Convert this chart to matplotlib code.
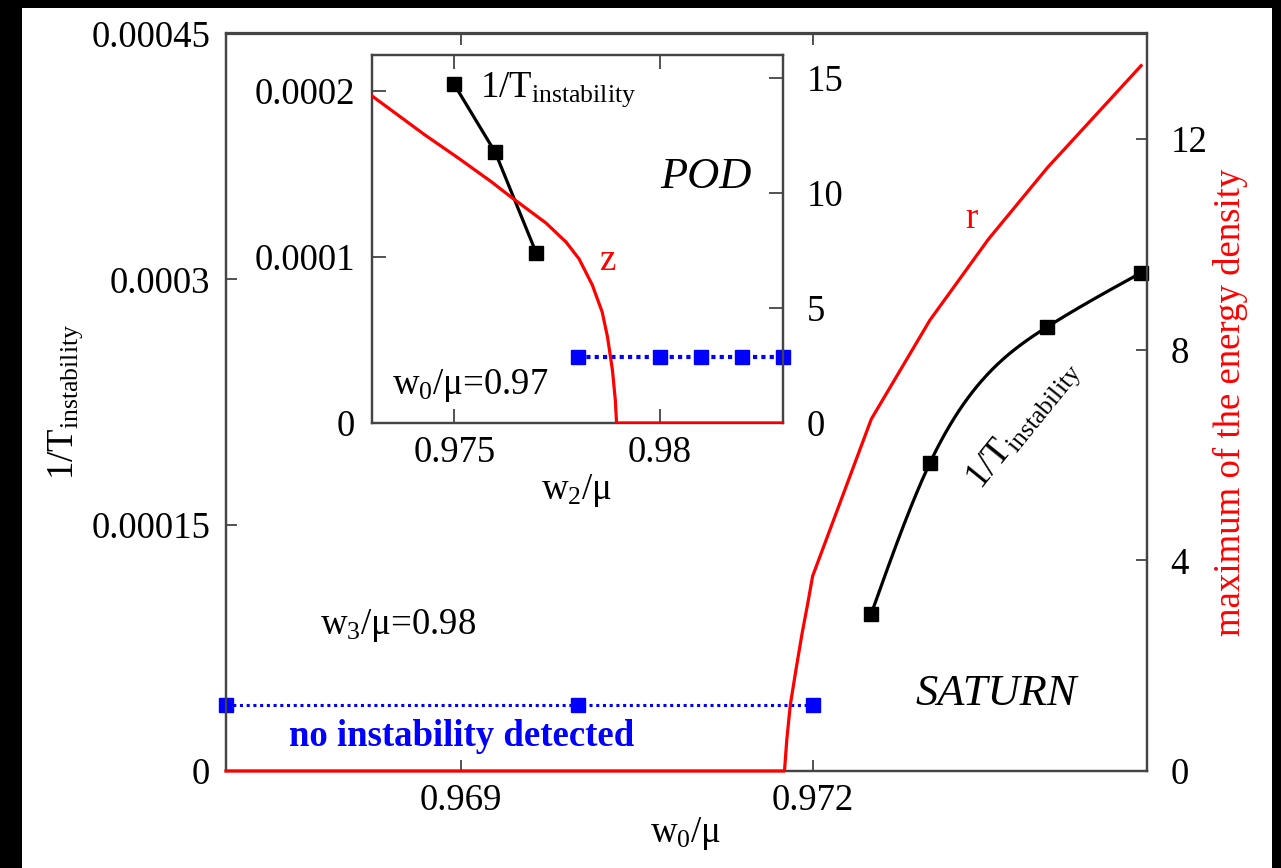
import numpy as np
import matplotlib
matplotlib.use("Agg")
import matplotlib.pyplot as plt
from matplotlib.patches import Rectangle

plt.rcParams["font.family"] = ["Liberation Serif", "DejaVu Serif"]
plt.rcParams["mathtext.fontset"] = "custom"
plt.rcParams["mathtext.rm"] = "Liberation Serif"
plt.rcParams["mathtext.it"] = "Liberation Serif:italic"
plt.rcParams["mathtext.bf"] = "Liberation Serif:bold"

# ---------------- data: main panel (SATURN, w3/mu = 0.98) ----------------
w0_inst = [0.9725, 0.973, 0.974, 0.9748]
inv_T_main = [9.6e-5, 1.88e-4, 2.71e-4, 3.04e-4]

w0_none = [0.967, 0.970, 0.972]
none_main = [4e-5, 4e-5, 4e-5]

w0_r = [0.967, 0.97176, 0.97178, 0.97181, 0.97186, 0.97191, 0.97196, 0.972,
        0.9725, 0.973, 0.9735, 0.974, 0.9748]
r_max = [0.0, 0.0, 0.6, 1.26, 1.95, 2.61, 3.2, 3.70,
         6.68, 8.56, 10.1, 11.45, 13.39]

main_xticks = [0.969, 0.972]
main_xlabels = ["0.969", "0.972"]
main_lticks = [0.0, 0.00015, 0.0003, 0.00045]
main_llabels = ["0", "0.00015", "0.0003", "0.00045"]
main_rticks = [0, 4, 8, 12]
main_rlabels = ["0", "4", "8", "12"]

# ---------------- data: inset (POD, w0/mu = 0.97) ----------------
w2_inst = [0.975, 0.976, 0.977]
inv_T_inset = [2.04e-4, 1.63e-4, 1.022e-4]

w2_none = [0.978, 0.980, 0.981, 0.982, 0.983]
none_inset = [4e-5, 4e-5, 4e-5, 4e-5, 4e-5]

w2_z = [0.973, 0.97429, 0.97510, 0.97591, 0.97632, 0.97674, 0.97723,
        0.97772, 0.97804, 0.97836, 0.97860, 0.97873, 0.97885, 0.97892,
        0.97895, 0.983]
z_max = [14.22, 12.52, 11.52, 10.48, 9.91, 9.35, 8.70,
         7.87, 7.13, 6.0, 4.83, 3.74, 2.30, 1.0,
         0.0, 0.0]

inset_xticks = [0.975, 0.98]
inset_xlabels = ["0.975", "0.98"]
inset_lticks = [0.0, 0.0001, 0.0002]
inset_llabels = ["0", "0.0001", "0.0002"]
inset_rticks = [0, 5, 10, 15]
inset_rlabels = ["0", "5", "10", "15"]


def natural_spline(x, y, n=300):
    """Smooth curve through the given points (natural cubic spline)."""
    x = np.asarray(x, float)
    y = np.asarray(y, float)
    k = len(x)
    h = np.diff(x)
    A = np.zeros((k, k))
    b = np.zeros(k)
    A[0, 0] = A[-1, -1] = 1.0
    for i in range(1, k - 1):
        A[i, i - 1] = h[i - 1]
        A[i, i] = 2 * (h[i - 1] + h[i])
        A[i, i + 1] = h[i]
        b[i] = 3 * ((y[i + 1] - y[i]) / h[i] - (y[i] - y[i - 1]) / h[i - 1])
    c = np.linalg.solve(A, b)
    xs = np.linspace(x[0], x[-1], n)
    idx = np.clip(np.searchsorted(x, xs) - 1, 0, k - 2)
    t = xs - x[idx]
    bb = (y[idx + 1] - y[idx]) / h[idx] - h[idx] * (2 * c[idx] + c[idx + 1]) / 3
    dd = (c[idx + 1] - c[idx]) / (3 * h[idx])
    ys = y[idx] + bb * t + c[idx] * t ** 2 + dd * t ** 3
    return xs, ys


W, H = 1281, 868
fig = plt.figure(figsize=(W / 100, H / 100), dpi=100, facecolor="black")
fig.patches.append(Rectangle((22 / W, 0), 1250 / W, 860 / H,
                             transform=fig.transFigure, facecolor="white",
                             edgecolor="none", zorder=-10))


def fx(px):
    return px / W


def fy(py):
    return 1 - py / H


FS = 26.5
SPINE = "#444444"

# ---------------- main axes ----------------
ax = fig.add_axes([fx(226), fy(771), fx(1147) - fx(226), fy(33.5) - fy(771)])
ax.set_xlim(0.967, 0.97485)
ax.set_ylim(0, 0.00045)
axr = ax.twinx()
axr.set_ylim(0, 14.0)

for a in (ax, axr):
    for s in a.spines.values():
        s.set_color(SPINE)
        s.set_linewidth(1.6)

ax.set_xticks(main_xticks)
ax.set_xticklabels(main_xlabels)
ax.set_yticks(main_lticks)
ax.set_yticklabels(main_llabels)
axr.set_yticks(main_rticks)
axr.set_yticklabels(main_rlabels)
ax.tick_params(axis="x", direction="in", length=8, width=1.3, color=SPINE,
               top=True, bottom=True, labelsize=FS, pad=9)
ax.tick_params(axis="y", direction="in", length=8, width=1.3, color=SPINE,
               left=True, right=False, labelsize=FS, pad=11.5)
axr.tick_params(axis="y", direction="in", length=8, width=1.3, color=SPINE,
                left=False, right=True, labelsize=FS, pad=17)

ax.plot(w0_none, none_main, color="#0000ff", lw=2.2,
        linestyle=(0, (1, 1.2)), marker="s", markersize=9.5, zorder=3,
        clip_on=False)
xs, ys = natural_spline(w0_inst, inv_T_main)
ax.plot(xs, ys, color="black", lw=2.3, zorder=4, clip_on=False)
ax.plot(w0_inst, inv_T_main, linestyle="none", color="black", marker="s",
        markersize=10, zorder=5, clip_on=False)
axr.plot(w0_r, r_max, color="#ff0000", lw=2.3, zorder=4, clip_on=False)

# ---------------- inset axes ----------------
ins = fig.add_axes([fx(372), fy(423), fx(783) - fx(372), fy(55) - fy(423)])
ins.set_facecolor("white")
ins.set_xlim(0.973, 0.983)
ins.set_ylim(0, 0.0002217)
insr = ins.twinx()
insr.set_ylim(0, 16.0)

for a in (ins, insr):
    for s in a.spines.values():
        s.set_color(SPINE)
        s.set_linewidth(1.6)

ins.set_xticks(inset_xticks)
ins.set_xticklabels(inset_xlabels)
ins.set_yticks(inset_lticks)
ins.set_yticklabels(inset_llabels)
insr.set_yticks(inset_rticks)
insr.set_yticklabels(inset_rlabels)
ins.tick_params(axis="x", direction="in", length=10, width=1.3, color=SPINE,
                top=True, bottom=True, labelsize=FS, pad=9)
ins.tick_params(axis="y", direction="in", length=10, width=1.3, color=SPINE,
                left=True, right=False, labelsize=FS, pad=12)
insr.tick_params(axis="y", direction="in", length=10, width=1.3, color=SPINE,
                 left=False, right=True, labelsize=FS, pad=17)

ins.plot(w2_none, none_inset, color="#0000ff", lw=3,
         linestyle=(0, (1, 1)), marker="s", markersize=9.5, zorder=3,
         clip_on=False)
ins.plot(w2_inst, inv_T_inset, color="black", lw=2.3, marker="s",
         markersize=10, zorder=5, clip_on=False)
insr.plot(w2_z, z_max, color="#ff0000", lw=2.3, zorder=4,
          solid_joinstyle="round")

# ---------------- texts ----------------
fig.text(fx(480), fy(97), r"1/T$_{\mathrm{instability}}$", fontsize=FS,
         ha="left", va="baseline")
fig.text(fx(706), fy(188), "POD", fontsize=32, style="italic",
         ha="center", va="baseline")
fig.text(fx(607), fy(270), "z", fontsize=FS, color="#ff0000",
         ha="center", va="baseline")
fig.text(fx(392), fy(394), r"w$_0$/μ=0.97", fontsize=FS,
         ha="left", va="baseline")
fig.text(fx(577), fy(499), r"w$_2$/μ", fontsize=FS,
         ha="center", va="baseline")

fig.text(fx(971), fy(228), "r", fontsize=FS, color="#ff0000",
         ha="center", va="baseline")
fig.text(fx(1024), fy(425), r"1/T$_{\mathrm{instability}}$", fontsize=FS,
         rotation=51, ha="center", va="center", rotation_mode="anchor")
fig.text(fx(320), fy(634), r"w$_3$/μ=0.98", fontsize=FS,
         ha="left", va="baseline")
fig.text(fx(462), fy(746), "no instability detected", fontsize=FS,
         fontweight="bold", color="#0000ff", ha="center", va="baseline")
fig.text(fx(996), fy(705), "SATURN", fontsize=32, style="italic",
         ha="center", va="baseline")

fig.text(fx(686), fy(842), r"w$_0$/μ", fontsize=FS,
         ha="center", va="baseline")
fig.text(fx(66), fy(402), r"1/T$_{\mathrm{instability}}$", fontsize=FS,
         rotation=90, ha="center", va="center")
fig.text(fx(1230), fy(402), "maximum of the energy density", fontsize=FS,
         rotation=90, color="#ff0000", ha="center", va="center")

fig.savefig("out.png", dpi=100, facecolor=fig.get_facecolor())
